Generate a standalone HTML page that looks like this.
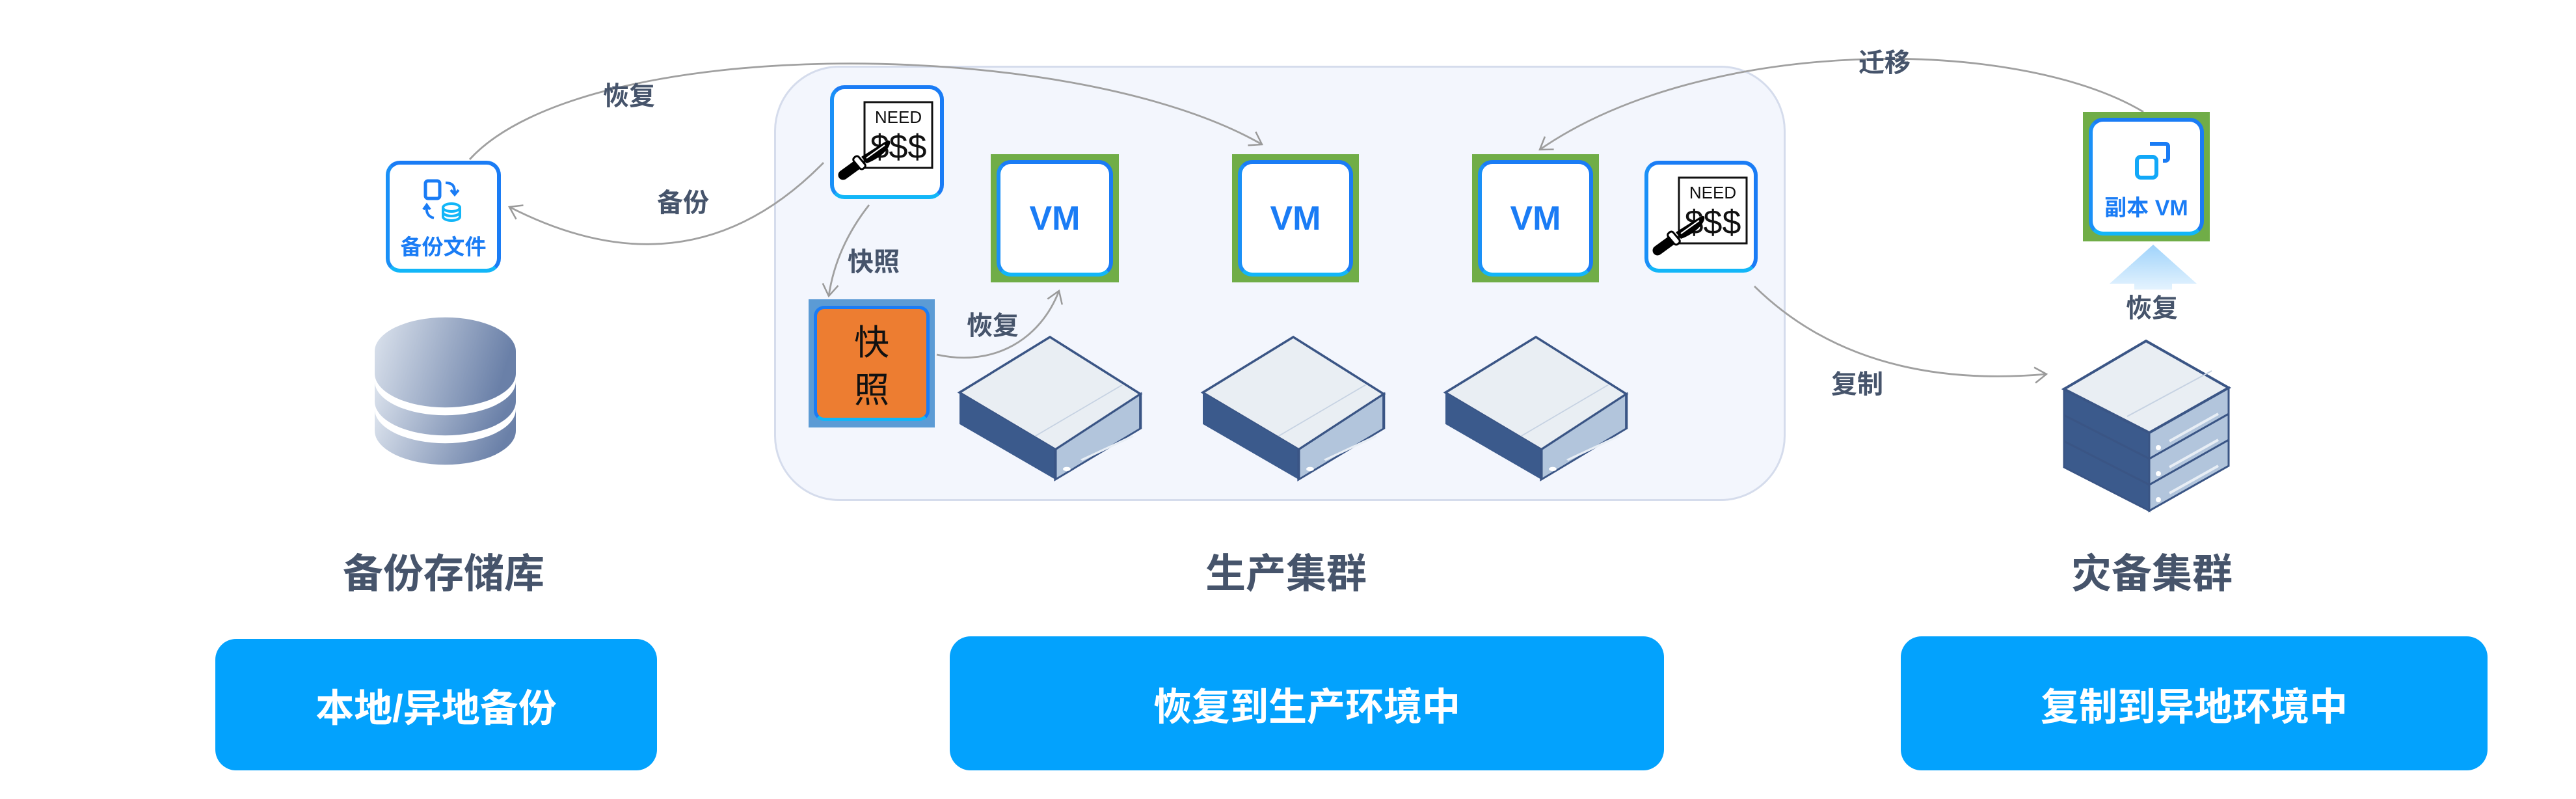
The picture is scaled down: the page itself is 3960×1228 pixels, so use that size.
<!DOCTYPE html>
<html><head><meta charset="utf-8">
<style>
*{margin:0;padding:0;box-sizing:border-box}
body{width:3960px;height:1228px;background:#fff;position:relative;overflow:hidden;font-family:"Liberation Sans","Noto Sans CJK SC",sans-serif}
.abs{position:absolute}
.lbl{position:absolute;color:#46546b;font-weight:bold;font-size:40px;transform:translate(-50%,-50%);white-space:nowrap}
.title{position:absolute;color:#46546b;font-weight:bold;font-size:62px;transform:translate(-50%,-50%);white-space:nowrap}
.btn{position:absolute;background:#03a2fd;border-radius:32px;color:#fff;font-weight:bold;font-size:59px;display:flex;align-items:center;justify-content:center}
.card{position:absolute;background:#fff;border:6px solid #1a7cf5;border-radius:22px;border-bottom-color:#12b6f8;border-left-color:#1a90f7}
.green{position:absolute;background:#70ad47;padding:9px}
.green .card{position:relative;width:100%;height:100%}
.vm{color:#1a7cf5;font-weight:bold;font-size:52px;display:flex;align-items:center;justify-content:center}
</style></head><body>

<div class="abs" style="left:1190px;top:101px;width:1555px;height:669px;background:#f3f6fd;border:3px solid #d5dcec;border-radius:100px"></div>

<svg class="abs" style="left:0;top:0" width="3960" height="1228" viewBox="0 0 3960 1228">
<defs>
<marker id="ar" markerWidth="30" markerHeight="30" refX="20" refY="15" orient="auto" markerUnits="userSpaceOnUse">
<path d="M2 3 L20 15 L2 27" fill="none" stroke="#999" stroke-width="2.5"/></marker>
<linearGradient id="db" x1="0" x2="1" y1="0" y2="0.2"><stop offset="0" stop-color="#dde4ee"/><stop offset="1" stop-color="#6a80a8"/></linearGradient>
<g id="srv">
<polygon points="167,0 334,190 177,375 0,185" fill="#e9eef3" stroke="#3a5585" stroke-width="6"/>
<polygon points="0,185 177,375 177,475 0,290" fill="#3b5a8c"/>
<polygon points="177,375 334,190 334,305 177,475" fill="#b2c5dc" stroke="#3a5585" stroke-width="5"/>
<line x1="140" y1="330" x2="300" y2="160" stroke="#c6d2e2" stroke-width="3"/>
<line x1="225" y1="410" x2="320" y2="330" stroke="#e8eef5" stroke-width="6"/>
<circle cx="198" cy="440" r="7" fill="#fff"/>
</g>
<g id="rw">
<rect x="12" y="24" width="150" height="124" fill="#fff"/>
<rect x="53" y="26" width="104" height="101" fill="#fff" stroke="#111" stroke-width="3"/>
<text x="105" y="58" font-family="Liberation Sans" font-size="26" text-anchor="middle" fill="#111">NEED</text>
<text x="105" y="112" font-family="Liberation Sans" font-size="52" text-anchor="middle" fill="#111">$$$</text>
<path d="M48 110 L86 86 C94 82 94 90 88 98 C80 108 68 116 56 120 Z" fill="#000"/>
<path d="M56 112 L84 92" stroke="#fff" stroke-width="2"/>
<line x1="20" y1="138" x2="42" y2="122" stroke="#000" stroke-width="15" stroke-linecap="round"/>
<rect x="40" y="108" width="10" height="22" rx="4" fill="#fff" stroke="#000" stroke-width="3" transform="rotate(-40 45 119)"/>
</g>
</defs>

<!-- connectors -->
<g fill="none" stroke="#a0a0a0" stroke-width="2.8">
<path d="M722 245 C900 50 1650 55 1940 222" marker-end="url(#ar)"/>
<path d="M1266 250 Q1060 460 783 318" marker-end="url(#ar)"/>
<path d="M1336 315 Q1285 380 1274 455" marker-end="url(#ar)"/>
<path d="M1440 545 C1530 565 1600 520 1628 447" marker-end="url(#ar)"/>
<path d="M3295 172 C3100 55 2620 55 2367 230" marker-end="url(#ar)"/>
<path d="M2697 440 Q2860 600 3146 575" marker-end="url(#ar)"/>
</g>

<!-- database -->
<g>
<path d="M576 540 A108 52 0 0 1 793 540 L793 574 A108 52 0 0 1 576 574 Z" fill="url(#db)"/>
<path d="M576 586 A108 52 0 0 0 793 586 L793 617 A108 52 0 0 1 576 617 Z" fill="url(#db)"/>
<path d="M576 629 A108 52 0 0 0 793 629 L793 662 A108 52 0 0 1 576 662 Z" fill="url(#db)"/>
</g>

<!-- servers -->
<use href="#srv" transform="translate(1475,518) scale(0.833,0.461)"/>
<use href="#srv" transform="translate(1849,518) scale(0.833,0.461)"/>
<use href="#srv" transform="translate(2222,518) scale(0.833,0.461)"/>

<!-- stacked server -->
<g stroke="#3a5585" stroke-width="3">
<polygon points="3173,678 3304,745 3304,785 3173,718" fill="#3b5a8c"/>
<polygon points="3304,745 3426,676 3426,716 3304,785" fill="#b2c5dc"/>
<polygon points="3173,638 3304,705 3304,745 3173,678" fill="#3b5a8c"/>
<polygon points="3304,705 3426,636 3426,676 3304,745" fill="#b2c5dc"/>
<polygon points="3173,598 3304,665 3304,705 3173,638" fill="#3b5a8c"/>
<polygon points="3304,665 3426,596 3426,636 3304,705" fill="#b2c5dc"/>
<polygon points="3299,524 3426,596 3304,665 3173,598" fill="#e9eef3" stroke-width="4"/>
</g>
<g stroke="#e8eef5" stroke-width="4">
<line x1="3335" y1="678" x2="3410" y2="636"/><line x1="3335" y1="718" x2="3410" y2="676"/><line x1="3335" y1="758" x2="3410" y2="716"/>
</g>
<line x1="3270" y1="640" x2="3400" y2="570" stroke="#c6d2e2" stroke-width="2"/>
<circle cx="3318" cy="688" r="4" fill="#fff"/><circle cx="3318" cy="728" r="4" fill="#fff"/><circle cx="3318" cy="768" r="4" fill="#fff"/>

<!-- up arrow -->
<defs><linearGradient id="ua" x1="0" y1="0" x2="0" y2="1"><stop offset="0" stop-color="#9fd3fb"/><stop offset="1" stop-color="#e4f3fe"/></linearGradient></defs>
<polygon points="3310,376 3377,436 3339,436 3339,445 3281,445 3281,436 3243,436" fill="url(#ua)"/>
</svg>

<!-- 备份文件 -->
<div class="card" style="left:593px;top:247px;width:177px;height:172px">
<svg class="abs" style="left:50px;top:22px" width="70" height="70" viewBox="0 0 70 70">
<rect x="5" y="3" width="22" height="27" rx="4" fill="none" stroke="#1a7cf5" stroke-width="5"/>
<path d="M36 6 C48 6 50 12 50 22 M44 17 L50 24 L56 17" fill="none" stroke="#1a7cf5" stroke-width="4"/>
<path d="M18 60 C8 58 6 50 7 42 M2 47 L7 40 L12 47" fill="none" stroke="#1a7cf5" stroke-width="4"/>
<ellipse cx="45" cy="44" rx="13" ry="6" fill="none" stroke="#12b6f8" stroke-width="4"/>
<path d="M32 44 L32 58 A13 6 0 0 0 58 58 L58 44 M32 51 A13 6 0 0 0 58 51" fill="none" stroke="#12b6f8" stroke-width="4"/>
</svg>
<div class="abs" style="left:0;width:100%;top:100px;text-align:center;color:#1a7cf5;font-weight:bold;font-size:33px">备份文件</div>
</div>

<!-- ransom 1 -->
<div class="card" style="left:1276px;top:131px;width:175px;height:175px;background:#fff">
<svg class="abs" style="left:-6px;top:-6px" width="175" height="175"><use href="#rw"/></svg></div>
<!-- ransom 2 -->
<div class="card" style="left:2528px;top:247px;width:174px;height:172px;background:#fff">
<svg class="abs" style="left:-6px;top:-6px" width="175" height="175"><use href="#rw"/></svg></div>

<!-- snapshot -->
<div class="abs" style="left:1243px;top:460px;width:194px;height:197px;background:#5b9bd5;padding:10px 8px">
<div style="width:100%;height:100%;background:#ed7d31;border:5px solid #1a7cf5;border-radius:16px;border-bottom-color:#12b6f8;display:flex;flex-direction:column;align-items:center;justify-content:center;font-size:54px;color:#111;line-height:1.35;font-family:'Noto Sans CJK SC',sans-serif">
<span>快</span><span>照</span></div></div>

<!-- VMs -->
<div class="green" style="left:1523px;top:237px;width:197px;height:197px"><div class="card vm">VM</div></div>
<div class="green" style="left:1894px;top:237px;width:195px;height:197px"><div class="card vm">VM</div></div>
<div class="green" style="left:2263px;top:237px;width:195px;height:197px"><div class="card vm">VM</div></div>
<div class="green" style="left:3202px;top:172px;width:195px;height:199px"><div class="card" style="position:relative">
<svg class="abs" style="left:64px;top:30px" width="56" height="60" viewBox="0 0 56 60">
<path d="M24 4 L48 4 A4 4 0 0 1 52 8 L52 26 A4 4 0 0 1 48 30 L44 30" fill="none" stroke="#1a7cf5" stroke-width="6"/>
<rect x="4" y="24" width="30" height="32" rx="6" fill="none" stroke="#12a8f8" stroke-width="6"/>
</svg>
<div class="abs" style="left:0;width:100%;top:105px;text-align:center;color:#1a7cf5;font-weight:bold;font-size:34px">副本 VM</div>
</div></div>

<!-- connector labels -->
<div class="lbl" style="left:967px;top:144px">恢复</div>
<div class="lbl" style="left:1050px;top:308px">备份</div>
<div class="lbl" style="left:1343px;top:399px">快照</div>
<div class="lbl" style="left:1526px;top:497px">恢复</div>
<div class="lbl" style="left:2897px;top:93px">迁移</div>
<div class="lbl" style="left:2855px;top:587px">复制</div>
<div class="lbl" style="left:3308px;top:470px">恢复</div>

<!-- titles -->
<div class="title" style="left:682px;top:876px">备份存储库</div>
<div class="title" style="left:1977px;top:876px">生产集群</div>
<div class="title" style="left:3308px;top:876px">灾备集群</div>

<!-- buttons -->
<div class="btn" style="left:331px;top:982px;width:679px;height:202px">本地/异地备份</div>
<div class="btn" style="left:1460px;top:978px;width:1098px;height:206px">恢复到生产环境中</div>
<div class="btn" style="left:2922px;top:978px;width:902px;height:206px">复制到异地环境中</div>
</body></html>
